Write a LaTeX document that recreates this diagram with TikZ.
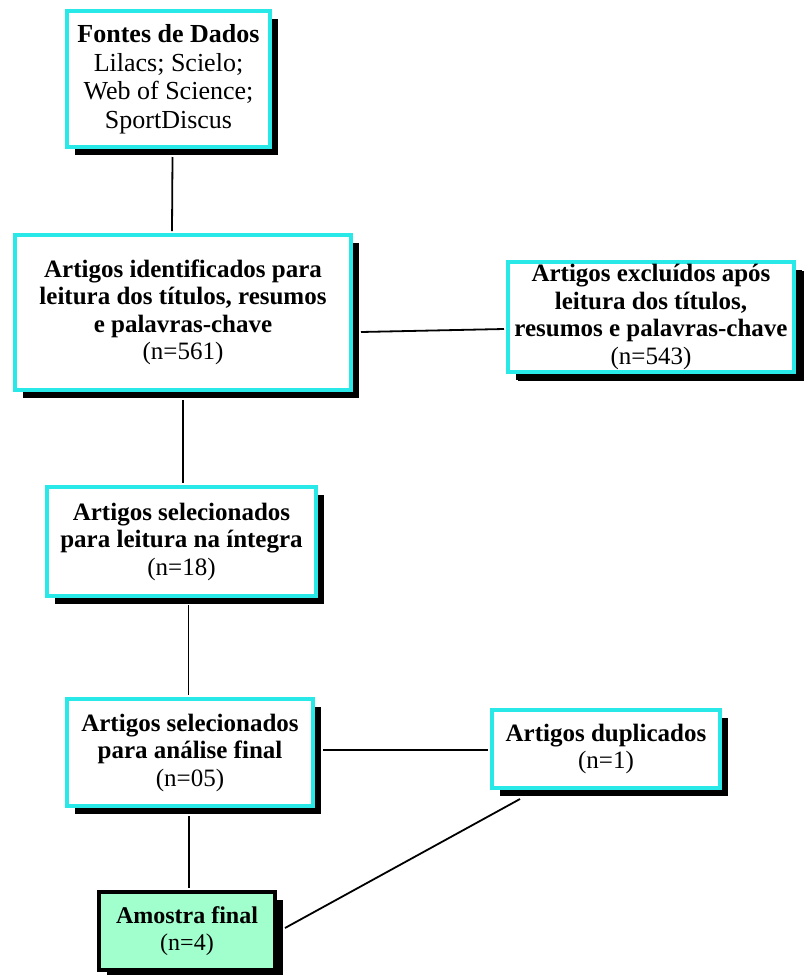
\documentclass[tikz,border=0pt]{standalone}
\usepackage{fontspec}
\setmainfont{Liberation Serif}
\usetikzlibrary{shadows}
\definecolor{boxcyan}{RGB}{40,232,232}
\definecolor{boxgreen}{RGB}{160,255,204}
\tikzset{
  box/.style={draw=boxcyan, line width=4pt, fill=white, align=center, inner sep=1pt,
    font=\fontsize{25}{27.5}\selectfont,
    drop shadow={shadow xshift=8pt, shadow yshift=-8pt, fill=black, opacity=1}},
  finalbox/.style={box, draw=black, fill=boxgreen, font=\fontsize{24}{27}\selectfont},
  link/.style={line width=1.8pt, black},
}
\begin{document}
\begin{tikzpicture}[x=1pt,y=-1pt]
\useasboundingbox (0,0) rectangle (805,975);
\node[box, minimum width=203pt, minimum height=136pt, font=\fontsize{26}{28.5}\selectfont] (b1) at (168.5,79)
  {\textbf{Fontes de Dados}\\Lilacs; Scielo;\\Web of Science;\\SportDiscus};
\node[box, minimum width=336pt, minimum height=155pt] (b2) at (183,312.5)
  {\textbf{Artigos identificados para}\\\textbf{leitura dos títulos, resumos}\\\textbf{e palavras-chave}\\(n=561)};
\node[box, minimum width=286pt, minimum height=110pt, drop shadow={shadow xshift=10pt, shadow yshift=-9pt, fill=black, opacity=1}] (b3) at (651,317)
  {\textbf{Artigos excluídos após}\\\textbf{leitura dos títulos,}\\\textbf{resumos e palavras-chave}\\(n=543)};
\node[box, minimum width=269pt, minimum height=109pt] (b4) at (181.5,541.5)
  {\textbf{Artigos selecionados}\\\textbf{para leitura na íntegra}\\(n=18)};
\node[box, minimum width=246pt, minimum height=107pt] (b5) at (190,752.5)
  {\textbf{Artigos selecionados}\\\textbf{para análise final}\\(n=05)};
\node[box, minimum width=228pt, minimum height=78pt] (b6) at (606,749)
  {\textbf{Artigos duplicados}\\(n=1)};
\node[finalbox, minimum width=176pt, minimum height=78pt] (b7) at (187,931)
  {\textbf{Amostra final}\\(n=4)};
% connectors
\draw[link] ([xshift=4pt,yshift=-8pt]b1.south) -- ([xshift=-11pt,yshift=2pt]b2.north);
\draw[link] ([xshift=8pt,yshift=-19.5pt]b2.east) -- ([xshift=-2pt,yshift=-12pt]b3.west);
\draw[link] ([yshift=-8pt]b2.south) -- ([xshift=1.5pt,yshift=2pt]b4.north);
\draw[link] ([xshift=7pt,yshift=-7pt]b4.south) -- ([xshift=-1.5pt,yshift=2pt]b5.north);
\draw[link] ([xshift=8pt,yshift=2.5pt]b5.east) -- ([xshift=-2pt,yshift=-1pt]b6.west);
\draw[link] ([xshift=-1pt,yshift=-8pt]b5.south) -- ([xshift=2pt,yshift=2pt]b7.north);
\draw[link] ([xshift=30pt,yshift=-9pt]b6.south west) -- ([xshift=8pt,yshift=3pt]b7.east);
\end{tikzpicture}
\end{document}
